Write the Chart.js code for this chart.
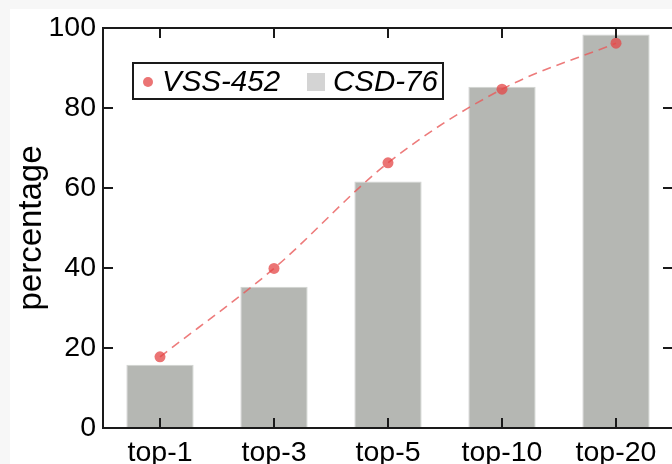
<!DOCTYPE html>
<html>
<head>
<meta charset="utf-8">
<script src="https://cdn.jsdelivr.net/npm/chart.js@4/dist/chart.umd.min.js"></script>
<style>
  html, body { margin: 0; padding: 0; background: #f7f7f7; overflow: hidden; width: 672px; height: 464px; }
  #wrap { position: absolute; left: 10px; top: 9px; width: 672px; height: 455px; background: #ffffff; }
  canvas { display: block; }
</style>
</head>
<body>
<div id="wrap"><canvas id="c" width="672" height="455"></canvas></div>
<script>
// Ranking levels on the x axis
const categories = ['top-1', 'top-3', 'top-5', 'top-10', 'top-20'];
// Percentage of hits per ranking level
const vssValues = [17.8, 39.9, 66.3, 84.7, 96.2];
const csdValues = [15.8, 35.3, 61.6, 85.3, 98.4];
// Y axis ticks
const yTicks = [0, 20, 40, 60, 80, 100];

const FONT = '"Liberation Sans", Arial, Helvetica, sans-serif';
const INK = '#1a1a1a';

// Boxed axes with inward tick marks on all four sides
const framePlugin = {
  id: 'frame',
  afterDatasetsDraw(chart) {
    const { ctx, chartArea: a, scales: { x, y } } = chart;
    ctx.save();
    ctx.strokeStyle = INK;
    ctx.lineWidth = 2;
    ctx.strokeRect(a.left, a.top, a.right - a.left, a.bottom - a.top);
    const len = 10;
    ctx.beginPath();
    x.ticks.forEach((t, i) => {
      const px = Math.round(x.getPixelForTick(i));
      ctx.moveTo(px, a.bottom); ctx.lineTo(px, a.bottom - len);
      ctx.moveTo(px, a.top); ctx.lineTo(px, a.top + len);
    });
    y.ticks.forEach((t, i) => {
      const py = Math.round(y.getPixelForTick(i));
      ctx.moveTo(a.left, py); ctx.lineTo(a.left + len, py);
      ctx.moveTo(a.right, py); ctx.lineTo(a.right - len, py);
    });
    ctx.stroke();
    ctx.restore();
  }
};

// Framed legend inside the plot area
const boxLegend = {
  id: 'boxLegend',
  afterDraw(chart) {
    const { ctx } = chart;
    const ds = chart.data.datasets;
    ctx.save();
    ctx.strokeStyle = INK;
    ctx.lineWidth = 2;
    ctx.strokeRect(123, 54, 310, 36);
    ctx.font = 'italic 29.5px ' + FONT;
    ctx.textBaseline = 'alphabetic';
    // line series marker
    ctx.fillStyle = ds[0].pointBackgroundColor;
    ctx.beginPath();
    ctx.arc(138, 73, 5, 0, Math.PI * 2);
    ctx.fill();
    ctx.fillStyle = '#000';
    ctx.fillText(ds[0].label, 152, 82);
    // bar series marker
    ctx.fillStyle = '#d4d4d4';
    ctx.fillRect(297, 64, 18, 18);
    ctx.fillStyle = '#000';
    ctx.fillText(ds[1].label, 323, 82);
    ctx.restore();
  }
};

new Chart(document.getElementById('c'), {
  data: {
    labels: categories,
    datasets: [
      {
        type: 'line',
        label: 'VSS-452',
        data: vssValues,
        order: 0,
        borderColor: 'rgba(232,90,90,0.8)',
        borderWidth: 1.6,
        borderDash: [9, 6],
        cubicInterpolationMode: 'monotone',
        pointRadius: 5.5,
        pointBorderWidth: 0,
        pointBackgroundColor: 'rgba(228,70,70,0.75)',
        fill: false
      },
      {
        type: 'bar',
        label: 'CSD-76',
        data: csdValues,
        order: 1,
        backgroundColor: '#b5b7b3',
        borderColor: '#d2d3d1',
        borderWidth: 1,
        barPercentage: 0.59,
        categoryPercentage: 1.0
      }
    ]
  },
  plugins: [framePlugin, boxLegend],
  options: {
    responsive: false,
    animation: false,
    layout: { padding: { top: 19, right: 9, left: 0, bottom: 0 } },
    plugins: { legend: { display: false }, tooltip: { enabled: false } },
    scales: {
      x: {
        offset: true,
        grid: { display: false, drawTicks: false },
        border: { display: false },
        ticks: { color: '#000', font: { family: FONT, size: 28.5 }, padding: 8 },
        afterFit(s) { s.height = 36; s.paddingLeft = 0; s.paddingRight = 0; }
      },
      y: {
        min: 0,
        max: 100,
        afterBuildTicks(s) { s.ticks = yTicks.map(v => ({ value: v })); },
        grid: { display: false, drawTicks: false },
        border: { display: false },
        ticks: { color: '#000', font: { family: FONT, size: 28.5 }, padding: 7 },
        title: { display: true, text: 'percentage', color: '#000', font: { family: FONT, size: 33 }, padding: { top: 2, bottom: 0 } },
        afterFit(s) { s.width = 93; s.paddingTop = 0; s.paddingBottom = 0; }
      }
    }
  }
});
</script>
</body>
</html>
